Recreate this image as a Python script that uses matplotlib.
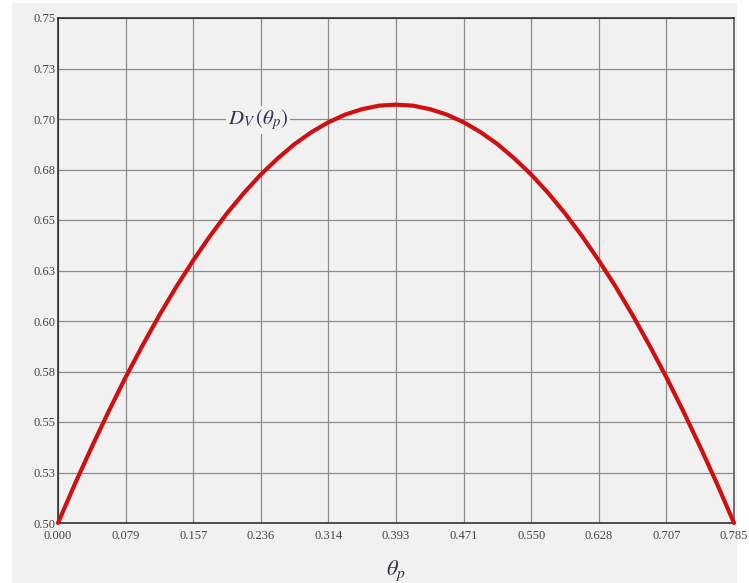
import matplotlib.pyplot as plt
from matplotlib.patches import Rectangle

# valeurs (theta_p, D_V)
theta = [0.0000, 0.0196, 0.0393, 0.0589, 0.0785, 0.0982, 0.1178, 0.1374, 0.1571, 0.1767,
         0.1963, 0.2160, 0.2356, 0.2553, 0.2749, 0.2945, 0.3142, 0.3338, 0.3534, 0.3731,
         0.3927, 0.4123, 0.4320, 0.4516, 0.4712, 0.4909, 0.5105, 0.5301, 0.5498, 0.5694,
         0.5890, 0.6087, 0.6283, 0.6480, 0.6676, 0.6872, 0.7069, 0.7265, 0.7461, 0.7658, 0.7854]
dv = [0.5000, 0.5193, 0.5377, 0.5553, 0.5721, 0.5879, 0.6029, 0.6169, 0.6300, 0.6421,
      0.6533, 0.6634, 0.6725, 0.6805, 0.6876, 0.6935, 0.6984, 0.7022, 0.7049, 0.7066,
      0.7071, 0.7066, 0.7049, 0.7022, 0.6984, 0.6935, 0.6876, 0.6805, 0.6725, 0.6634,
      0.6533, 0.6421, 0.6300, 0.6169, 0.6029, 0.5879, 0.5721, 0.5553, 0.5377, 0.5193, 0.5000]

xticks = [0.0, 0.0785, 0.1571, 0.2356, 0.3142, 0.3927, 0.4712, 0.5498, 0.6283, 0.7069, 0.7854]
xlabels = ["0.000", "0.079", "0.157", "0.236", "0.314", "0.393", "0.471", "0.550", "0.628", "0.707", "0.785"]
yticks = [0.5, 0.525, 0.55, 0.575, 0.6, 0.625, 0.65, 0.675, 0.7, 0.725, 0.75]
ylabels = ["0.50", "0.53", "0.55", "0.58", "0.60", "0.63", "0.65", "0.68", "0.70", "0.73", "0.75"]

bg = '#f1f1f1'
plt.rcParams['mathtext.fontset'] = 'stix'

fig = plt.figure(figsize=(7.49, 5.83), dpi=100, facecolor='white')
# panneau gris derriere le graphe
fig.patches.append(Rectangle((12 / 749, 0), 725 / 749, 580 / 583, transform=fig.transFigure,
                             facecolor=bg, edgecolor='none', zorder=-10))
ax = fig.add_axes([58 / 749, 60 / 583, 676 / 749, 505 / 583])
ax.set_facecolor(bg)

ax.plot(theta, dv, color='#d01010', lw=3.0, solid_capstyle='round', zorder=3, clip_on=False)

ax.set_xlim(0, 0.7854)
ax.set_ylim(0.5, 0.75)
ax.set_xticks(xticks)
ax.set_xticklabels(xlabels, family='Liberation Serif', fontsize=9, color='#444444')
ax.set_yticks(yticks)
ax.set_yticklabels(ylabels, family='Liberation Serif', fontsize=9, color='#444444')
ax.tick_params(axis='x', length=0, pad=5)
ax.tick_params(axis='y', length=0, pad=2)
ax.grid(True, color='#8c8c8c', lw=0.9)
ax.set_axisbelow(True)

for side in ['left', 'bottom', 'top']:
    ax.spines[side].set_color('#222222')
    ax.spines[side].set_linewidth(1.1)
ax.spines['right'].set_color('#666666')
ax.spines['right'].set_linewidth(1.3)

ax.text(0.2326, 0.6995, r'$D_V\,(\theta_p)$', fontsize=15, color='#333350', ha='center', va='center',
        bbox=dict(facecolor=bg, edgecolor='none', pad=1), zorder=2)
ax.set_xlabel(r'$\theta_p$', fontsize=16, color='#333350', labelpad=12)

plt.savefig('out.png', dpi=100, facecolor=fig.get_facecolor())
